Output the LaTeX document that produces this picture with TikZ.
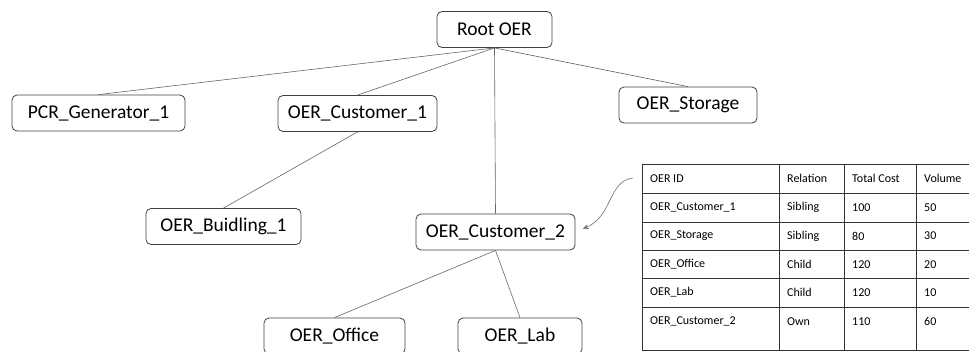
\documentclass[tikz,border=0pt]{standalone}
\usepackage{fontspec}
\setmainfont{Carlito}
\usetikzlibrary{arrows.meta,positioning}

\begin{document}
\begin{tikzpicture}[x=1pt,y=-1pt,
  box/.style={rectangle,draw=black!75,line width=0.8pt,rounded corners=5pt,
              minimum height=36pt,inner sep=0pt,text centered,
              font=\fontsize{19.5}{22}\selectfont},
  link/.style={draw=black!60,line width=0.6pt},
  cell/.style={anchor=west,inner sep=0pt,font=\fontsize{12}{14}\selectfont},
  grid/.style={draw=black!80,line width=1pt},
  arrow/.style={-{Stealth[length=6pt,width=5pt]},draw=black!55,line width=0.6pt}
]
\useasboundingbox (0,0) rectangle (969,351);
\clip (0,0) rectangle (969,351);

% tree of OERs
\node[box,minimum width=115pt] (root)    at (494.5,29.5) {Root OER};
\node[box,minimum width=173pt] (pcr)     at (98.5,113)   {PCR\_Generator\_1};
\node[box,minimum width=159pt] (custA)   at (357.5,113.5) {OER\_Customer\_1};
\node[box,minimum width=138pt] (storage) at (688,105)    {OER\_Storage};
\node[box,minimum width=155pt] (bldg)    at (223.5,226.5) {OER\_Buidling\_1};
\node[box,minimum width=159pt] (custB)   at (495.5,232)  {OER\_Customer\_2};
\node[box,minimum width=141pt] (office)  at (334.5,336)  {OER\_Office};
\node[box,minimum width=124pt] (lab)     at (520,336)    {OER\_Lab};

\draw[link] (root.south) -- (pcr.north);
\draw[link] (root.south) -- (custA.north);
\draw[link] (root.south) -- (storage.north);
\draw[link] (root.south) -- (custB.north);
\draw[link] (custA.south) -- (bldg.north);
\draw[link] (custB.south) -- (office.north);
\draw[link] (custB.south) -- (lab.north);

% table of relations
\draw[grid] (642,164) -- (980,164);
\draw[grid] (642,193) -- (980,193);
\draw[grid] (642,222) -- (980,222);
\draw[grid] (642,250) -- (980,250);
\draw[grid] (642,278) -- (980,278);
\draw[grid] (642,307) -- (980,307);
\draw[grid] (642,350) -- (980,350);
\draw[grid] (642,164) -- (642,350);
\draw[grid] (779,164) -- (779,350);
\draw[grid] (844,164) -- (844,350);
\draw[grid] (916,164) -- (916,350);

\node[cell] (h1) at (650,178.5) {OER ID};
\node[cell] (h2) at (787,178.5) {Relation};
\node[cell] (h3) at (852,178.5) {Total Cost};
\node[cell] (h4) at (924,178.5) {Volume};

\node[cell] (a1) at (650,207.5) {OER\_Customer\_1};
\node[cell] (a2) at (787,207.5) {Sibling};
\node[cell] (a3) at (852,207.5) {100};
\node[cell] (a4) at (924,207.5) {50};

\node[cell] (b1) at (650,236) {OER\_Storage};
\node[cell] (b2) at (787,236) {Sibling};
\node[cell] (b3) at (852,236) {80};
\node[cell] (b4) at (924,236) {30};

\node[cell] (c1) at (650,264.5) {OER\_Office};
\node[cell] (c2) at (787,264.5) {Child};
\node[cell] (c3) at (852,264.5) {120};
\node[cell] (c4) at (924,264.5) {20};

\node[cell] (d1) at (650,292.5) {OER\_Lab};
\node[cell] (d2) at (787,292.5) {Child};
\node[cell] (d3) at (852,292.5) {120};
\node[cell] (d4) at (924,292.5) {10};

\node[cell] (e1) at (650,321.5) {OER\_Customer\_2};
\node[cell] (e2) at (787,321.5) {Own};
\node[cell] (e3) at (852,321.5) {110};
\node[cell] (e4) at (924,321.5) {60};

\coordinate (tblref) at (633,178);
\draw[arrow,shorten >=8pt] (tblref) .. controls (608,181) and (613,216) .. (custB.east);
\end{tikzpicture}
\end{document}
